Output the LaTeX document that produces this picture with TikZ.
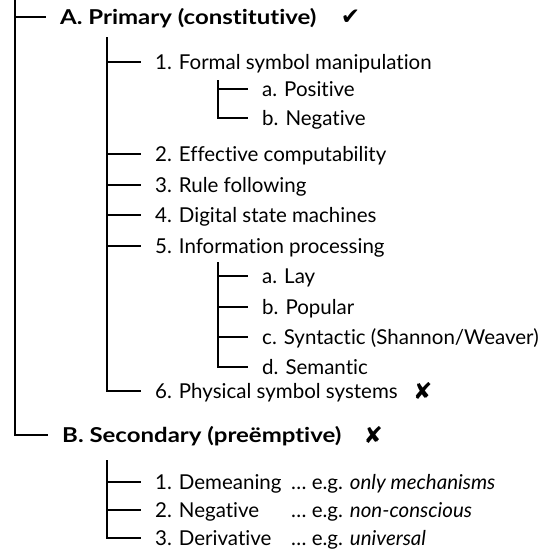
\documentclass[tikz,border=0pt]{standalone}
\usepackage{fontspec}
\setmainfont{Lato}[Ligatures=NoCommon]
\newfontfamily\dejavu{DejaVu Sans}
\newfontfamily\heavyfont{Lato}[FakeStretch=1.17,Ligatures=NoCommon]
\usetikzlibrary{positioning}

\begin{document}
\begin{tikzpicture}[x=1pt,y=-1pt,
    entry/.style={anchor=west,inner sep=0pt,text height=14.7pt,text depth=0pt,font=\fontsize{20.5}{24}\selectfont},
    head/.style={entry,font=\heavyfont\fontsize{20.5}{24}\selectfont\bfseries},
    twig/.style={line width=2.7pt,shorten >=14pt},
    verdict/.style={inner sep=0pt,font=\dejavu\fontsize{23}{24}\selectfont}]
    \useasboundingbox (0,0) rectangle (552,552);
    % trunk and the two main headings
    \coordinate (root) at (15,-4);
    \node[head] (A) at (60,17) {A. Primary (constitutive)};
    \node[head] (B) at (62,435) {B. Secondary (preëmptive)};
    \node[verdict,right=24pt of A] (Aok) {✔};
    \node[verdict,right=22pt of B] (Bno) {✘};
    \draw[twig] (root) |- (A.west);
    \draw[twig] (root) |- (B.west);
    % primary branches
    \coordinate (colA) at (107,37);
    \foreach \n/\yy/\txt in {a1/62/1. Formal symbol manipulation,a2/154/2. Effective computability,
        a3/185/3. Rule following,a4/215/4. Digital state machines,a5/246/5. Information processing,
        a6/391/6. Physical symbol systems}{
      \node[entry] (\n) at (155,\yy) {\txt};
      \draw[twig] (colA) |- (\n.west);
    }
    \node[verdict,right=15pt of a6] (a6no) {✘};
    % formal symbol manipulation
    \coordinate (colF) at (218,80);
    \foreach \n/\yy/\txt in {f1/89/a. Positive,f2/118/b. Negative}{
      \node[entry] (\n) at (262,\yy) {\txt};
      \draw[twig] (colF) |- (\n.west);
    }
    % information processing
    \coordinate (colI) at (218,262);
    \foreach \n/\yy/\txt in {i1/276/a. Lay,i2/307/b. Popular,i3/337/{c. Syntactic (Shannon/Weaver)},i4/367/d. Semantic}{
      \node[entry] (\n) at (262,\yy) {\txt};
      \draw[twig] (colI) |- (\n.west);
    }
    % secondary branches
    \coordinate (colB) at (107,460);
    \foreach \n/\yy/\txt/\eg in {b1/482/1. Demeaning/only mechanisms,b2/510/2. Negative/non-conscious,b3/538/3. Derivative/universal}{
      \node[entry] (\n) at (155,\yy) {\txt};
      \node[entry] (\n-eg) at (291,\yy) {… e.g. \textit{\eg}};
      \draw[twig] (colB) |- (\n.west);
    }
  \end{tikzpicture}
\end{document}
